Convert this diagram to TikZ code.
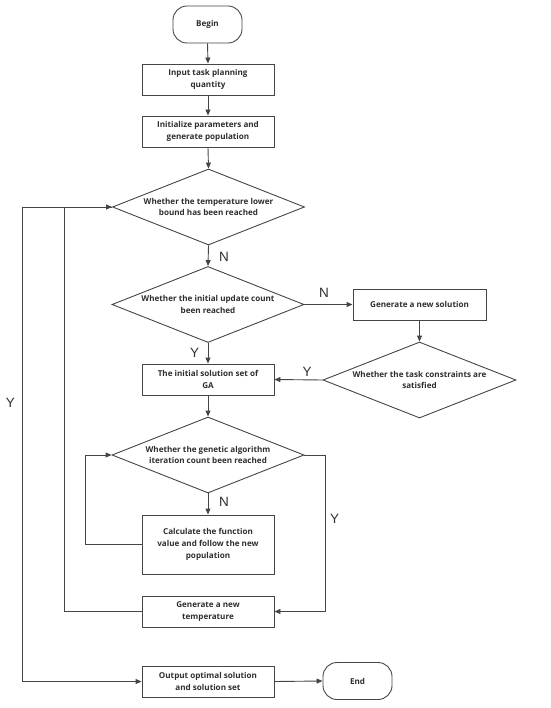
\documentclass[tikz,border=0pt]{standalone}
\usepackage{fontspec}
\setmainfont{Open Sans}
\newfontfamily\lblfont{Liberation Sans}
\usetikzlibrary{shapes.geometric,arrows.meta}
\definecolor{ln}{HTML}{454545}
\definecolor{tx}{HTML}{2E2E2E}
\tikzset{
  every node/.style={text=tx},
  boxnode/.style={draw=ln, line width=0.9pt, rectangle, minimum width=132pt, inner sep=2pt, align=center, font=\fontsize{8.1}{11.8}\selectfont\bfseries},
  termnode/.style={draw=ln, line width=0.9pt, rectangle, rounded corners=14pt, minimum width=69pt, minimum height=37pt, font=\fontsize{8.1}{11.8}\selectfont\bfseries},
  dianode/.style={draw=ln, line width=0.9pt, diamond, minimum width=192pt, minimum height=76pt, inner sep=0pt},
  dtext/.style={align=center, font=\fontsize{8.1}{11.8}\selectfont\bfseries, inner sep=0pt},
  arr/.style={draw=ln, line width=0.9pt, -{Triangle[length=6pt,width=5pt]}},
  yn/.style={font=\lblfont\fontsize{13.5}{13.5}\selectfont, text=tx, inner sep=0pt}
}
\begin{document}
\begin{tikzpicture}[x=1pt,y=-1pt]
\useasboundingbox (0,0) rectangle (550,708);
\node[termnode] (begin) at (207.5,24.5) {Begin};
\node[boxnode, minimum height=31pt] (input) at (208,79.5) {Input task planning\\quantity};
\node[boxnode, minimum height=31pt] (init) at (208,131.5) {Initialize parameters and\\generate population};
\node[dianode, label={[dtext]center:Whether the temperature lower\\bound has been reached}] (d1) at (208.5,207) {};
\node[dianode, label={[dtext]center:Whether the initial update count\\been reached}] (d2) at (208,304.5) {};
\node[boxnode, minimum height=31pt, minimum width=133pt] (gen) at (419.5,304.5) {Generate a new solution};
\node[dianode, minimum width=193pt, label={[dtext]center:Whether the task constraints are\\satisfied}] (d3) at (419.5,380) {};
\node[boxnode, minimum height=31pt] (ga) at (208,379.5) {The initial solution set of\\GA};
\node[dianode, label={[dtext]center:Whether the genetic algorithm\\iteration count been reached}] (d4) at (208,455) {};
\node[boxnode, minimum height=59pt] (calc) at (208,544.5) {Calculate the function\\value and follow the new\\population};
\node[boxnode, minimum height=31pt] (temp) at (208,611.5) {Generate a new\\temperature};
\node[boxnode, minimum height=31pt] (out) at (208,681.5) {Output optimal solution\\and solution set};
\node[termnode] (end) at (357.5,681) {End};

\coordinate (cA) at (22,681.5);
\coordinate (cB) at (64,611.5);
\coordinate (cC) at (64,207);
\coordinate (cD) at (85,544.5);
\coordinate (cE) at (85,455);
\coordinate (cF) at (325,455);
\coordinate (cG) at (325,611.5);

\draw[arr] (begin.south) -- (input.north);
\draw[arr] (input.south) -- (init.north);
\draw[arr] (init.south) -- (d1.north);
\draw[arr] (d1.south) -- (d2.north);
\draw[arr] (d2.east) -- (gen.west);
\draw[arr] (gen.south) -- (d3.north);
\draw[arr] (d3.west) -- (ga.east);
\draw[arr] (d2.south) -- (ga.north);
\draw[arr] (ga.south) -- (d4.north);
\draw[arr] (d4.south) -- (calc.north);
\draw[arr] (calc.west) -- (cD) -- (cE) -- (d4.west);
\draw[arr] (d4.east) -- (cF) -- (cG) -- (temp.east);
\draw[arr] (temp.west) -- (cB) -- (cC) -- (d1.west);
\draw[arr] (d1.west) -| (cA) -- (out.west);
\draw[arr] (out.east) -- (end.west);

\node[yn] (n1) at (224,257) {N};
\node[yn] (n2) at (324,293) {N};
\node[yn] (y1) at (194.5,353) {Y};
\node[yn] (y2) at (307,372) {Y};
\node[yn] (n3) at (224,502) {N};
\node[yn] (y3) at (334.5,519) {Y};
\node[yn] (y4) at (10.5,403) {Y};
\end{tikzpicture}
\end{document}
